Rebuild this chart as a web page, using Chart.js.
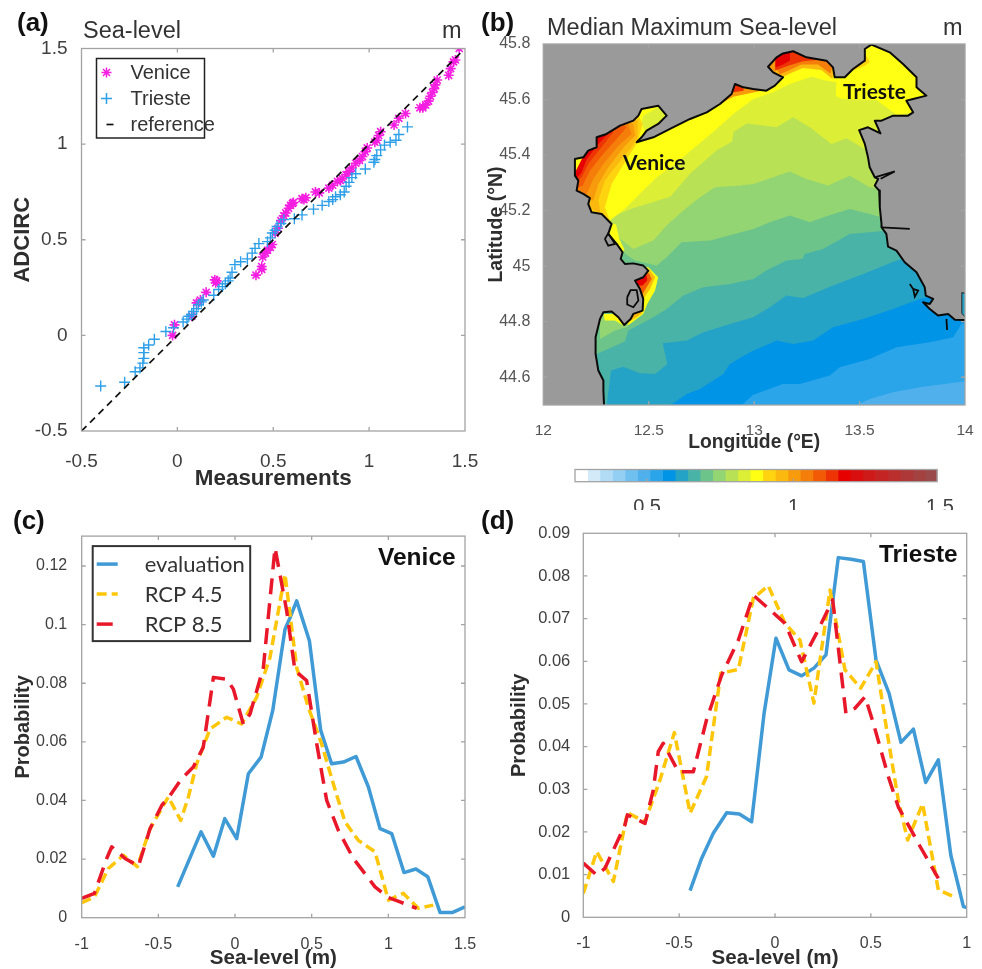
<!DOCTYPE html>
<html><head><meta charset="utf-8">
<script src="https://cdn.jsdelivr.net/npm/chart.js@4/dist/chart.umd.js"></script>
<style>
html,body{margin:0;padding:0;background:#fff;width:982px;height:969px;overflow:hidden}
#wrap{position:relative;width:982px;height:969px;filter:blur(0.45px)}
canvas{position:absolute;display:block}
.t{position:absolute;white-space:pre;transform:translateY(-50%);line-height:1}
</style></head><body><div id="wrap"></div>
<script>
// ---------- Panel (a) ----------
const veniceQQ=[[-0.025,0.0],[-0.015,0.055],[0.075,0.10],[0.10,0.17],[0.12,0.185],[0.15,0.225],[0.195,0.29],[0.20,0.275],[0.205,0.285],[0.41,0.315],[0.44,0.345],[0.44,0.36],[0.445,0.41],[0.46,0.43],[0.47,0.445],[0.485,0.46],[0.495,0.475],[0.51,0.535],[0.525,0.56],[0.54,0.60],[0.555,0.625],[0.565,0.64],[0.58,0.665],[0.59,0.68],[0.60,0.69],[0.605,0.695],[0.65,0.715],[0.66,0.71],[0.67,0.72],[0.72,0.75],[0.74,0.745],[0.79,0.77],[0.81,0.785],[0.835,0.805],[0.85,0.81],[0.86,0.82],[0.88,0.84],[0.895,0.855],[0.91,0.875],[0.93,0.90],[0.95,0.915],[0.965,0.935],[0.98,0.96],[0.99,0.98],[1.03,1.01],[1.04,1.02],[1.05,1.045],[1.06,1.065],[1.13,1.10],[1.155,1.135],[1.19,1.16],[1.265,1.19],[1.28,1.19],[1.295,1.205],[1.31,1.225],[1.32,1.25],[1.33,1.27],[1.34,1.29],[1.345,1.31],[1.355,1.335],[1.415,1.36],[1.425,1.395],[1.44,1.43],[1.45,1.44],[1.47,1.5]];
const triesteQQ=[[-0.40,-0.265],[-0.275,-0.245],[-0.22,-0.19],[-0.195,-0.17],[-0.18,-0.145],[-0.175,-0.12],[-0.175,-0.09],[-0.175,-0.065],[-0.15,-0.05],[-0.12,-0.02],[-0.06,0.02],[-0.02,0.04],[0.03,0.07],[0.05,0.085],[0.06,0.10],[0.075,0.11],[0.085,0.125],[0.10,0.14],[0.11,0.16],[0.125,0.175],[0.135,0.185],[0.19,0.21],[0.215,0.24],[0.235,0.255],[0.25,0.27],[0.265,0.285],[0.275,0.30],[0.285,0.33],[0.30,0.37],[0.33,0.385],[0.365,0.40],[0.39,0.43],[0.405,0.455],[0.425,0.48],[0.47,0.49],[0.485,0.51],[0.495,0.535],[0.51,0.55],[0.52,0.57],[0.54,0.585],[0.555,0.605],[0.61,0.61],[0.65,0.63],[0.71,0.66],[0.755,0.68],[0.79,0.70],[0.81,0.71],[0.825,0.725],[0.85,0.735],[0.87,0.75],[0.88,0.78],[0.895,0.80],[0.91,0.825],[0.93,0.845],[0.98,0.87],[1.025,0.905],[1.03,0.92],[1.04,0.94],[1.06,0.97],[1.08,0.995],[1.11,1.01],[1.14,1.02],[1.155,1.05],[1.20,1.09]];
const referenceLine=[[-0.5,-0.5],[1.48,1.48]];
const aTicks=[-0.5,0,0.5,1,1.5];

// ---------- Panel (b) : colour bands ----------
const mapXTicks=[12,12.5,13,13.5,14];
const mapYTicks=[44.6,44.8,45,45.2,45.4,45.6,45.8];
const contour0=[[13.485,44.48],[13.485,44.498],[13.548,44.522],[13.659,44.546],[13.785,44.564],[14.02,44.588]];
const contour1=[[12.933,44.48],[12.933,44.494],[12.996,44.537],[13.137,44.576],[13.216,44.576],[13.359,44.606],[13.406,44.636],[13.548,44.666],[13.675,44.708],[13.833,44.726],[13.944,44.744],[13.983,44.792],[14.02,44.80]];
const contour2=[[12.593,44.48],[12.593,44.494],[12.680,44.540],[12.743,44.558],[12.854,44.612],[12.885,44.648],[12.980,44.690],[13.106,44.732],[13.185,44.720],[13.280,44.732],[13.374,44.780],[13.517,44.810],[13.659,44.846],[13.785,44.882],[13.880,44.894],[14.02,44.90]];
const contour3=[[12.300,44.48],[12.300,44.494],[12.321,44.624],[12.379,44.638],[12.458,44.614],[12.530,44.612],[12.588,44.648],[12.566,44.722],[12.680,44.732],[12.759,44.762],[12.885,44.792],[12.996,44.816],[13.074,44.852],[13.153,44.894],[13.232,44.885],[13.374,44.930],[13.517,44.972],[13.675,45.020],[13.785,45.038],[14.02,45.04]];
const contour4=[[12.237,44.678],[12.387,44.729],[12.403,44.768],[12.522,44.816],[12.585,44.846],[12.664,44.894],[12.759,44.924],[12.885,44.936],[12.996,44.954],[13.058,44.984],[13.153,45.020],[13.229,45.026],[13.240,45.044],[13.327,45.062],[13.453,45.116],[13.596,45.126],[13.659,45.128]];
const contour5=[[12.379,45.050],[12.435,45.020],[12.538,45.002],[12.585,45.032],[12.656,45.086],[12.791,45.092],[12.996,45.134],[13.074,45.158],[13.169,45.182],[13.264,45.158],[13.335,45.178],[13.453,45.206],[13.548,45.188],[13.659,45.164]];
const contour6=[[12.356,45.104],[12.427,45.062],[12.522,45.092],[12.585,45.146],[12.664,45.200],[12.743,45.248],[12.814,45.284],[12.933,45.290],[12.996,45.296],[13.090,45.320],[13.169,45.341],[13.248,45.314],[13.351,45.290],[13.453,45.326],[13.548,45.284],[13.659,45.272]];
const contour7=[[12.326,45.176],[12.413,45.206],[12.602,45.250],[12.697,45.334],[12.824,45.418],[12.895,45.448],[12.903,45.484],[12.966,45.514],[13.106,45.500],[13.185,45.536],[13.264,45.500],[13.367,45.440],[13.438,45.461],[13.517,45.425],[13.596,45.404]];
const contour8=[[12.316,45.164],[12.395,45.212],[12.474,45.272],[12.538,45.320],[12.625,45.368],[12.719,45.428],[12.822,45.494],[12.901,45.548],[12.996,45.602],[13.090,45.626],[13.169,45.656],[13.272,45.682],[13.343,45.668],[13.390,45.662],[13.387,45.614],[13.414,45.602],[13.580,45.598],[13.675,45.545],[13.770,45.554]];
const bandContours=[contour0,contour1,contour2,contour3,contour4,contour5,contour6,contour7,contour8];
const bandColors=['#2aa5ea','#0094e6','#25a3c6','#49b3a8','#6cc48a','#93d572','#b8e155','#dcee36','#ffff14'];
// near-coast patches, painted in order above the bands
const patches=[
 {c:'#dcee36',p:[[12.474,45.542],[12.545,45.572],[12.582,45.542],[12.530,45.506],[12.482,45.490],[12.466,45.512]]},
 {c:'#ffd30f',p:[[12.324,45.146],[12.292,45.212],[12.324,45.296],[12.372,45.356],[12.447,45.446],[12.471,45.512],[12.451,45.542],[12.30,45.56],[12.10,45.26],[12.206,45.164]]},
 {c:'#fbb80f',p:[[12.272,45.188],[12.261,45.236],[12.292,45.308],[12.340,45.356],[12.419,45.428],[12.447,45.464],[12.447,45.524],[12.30,45.56],[12.10,45.26]]},
 {c:'#f79a0c',p:[[12.237,45.236],[12.261,45.296],[12.308,45.356],[12.387,45.434],[12.435,45.470],[12.427,45.512],[12.30,45.56],[12.10,45.26]]},
 {c:'#f57e0a',p:[[12.206,45.260],[12.237,45.314],[12.285,45.368],[12.356,45.434],[12.419,45.476],[12.403,45.512],[12.30,45.56],[12.10,45.26]]},
 {c:'#f25a06',p:[[12.187,45.290],[12.221,45.344],[12.277,45.398],[12.340,45.452],[12.395,45.500],[12.379,45.512],[12.30,45.56],[12.10,45.26]]},
 {c:'#ee3305',p:[[12.182,45.320],[12.213,45.368],[12.269,45.422],[12.332,45.482],[12.30,45.56],[12.10,45.26]]},
 {c:'#e60000',p:[[12.182,45.338],[12.206,45.386],[12.261,45.440],[12.324,45.490],[12.30,45.56],[12.10,45.26]]},
 {c:'#fbb80f',p:[[13.109,45.670],[13.169,45.694],[13.232,45.714],[13.319,45.706],[13.371,45.674],[13.40,45.80],[13.05,45.80]]},
 {c:'#f57e0a',p:[[13.121,45.690],[13.169,45.706],[13.224,45.726],[13.303,45.726],[13.362,45.694],[13.40,45.80],[13.05,45.80]]},
 {c:'#ee3305',p:[[13.098,45.704],[13.161,45.722],[13.232,45.738],[13.295,45.742],[13.30,45.80],[13.05,45.80]]},
 {c:'#e60000',p:[[13.093,45.714],[13.137,45.726],[13.169,45.740],[13.17,45.80],[13.05,45.80]]},
 {c:'#f79a0c',p:[[12.74,45.56],[12.82,45.575],[12.90,45.61],[12.996,45.625],[13.058,45.635],[13.10,45.655],[13.10,45.75],[12.90,45.75],[12.74,45.62]]},
 {c:'#ee3305',p:[[12.895,45.625],[12.95,45.632],[12.95,45.70],[12.89,45.70]]},
 {c:'#ffd30f',p:[[13.47,45.705],[13.525,45.722],[13.55,45.735],[13.53,45.76],[13.50,45.76]]},
 {c:'#ffff14',p:[[12.498,44.996],[12.545,44.960],[12.530,44.912],[12.493,44.864],[12.474,44.828],[12.411,44.792],[12.387,44.780],[12.37,44.85],[12.40,45.00]]},
 {c:'#fbb80f',p:[[12.506,44.984],[12.530,44.960],[12.506,44.918],[12.474,44.882],[12.40,44.90],[12.45,45.0]]},
 {c:'#f25a06',p:[[12.503,44.972],[12.514,44.954],[12.490,44.924],[12.471,44.900],[12.40,44.90],[12.45,45.0]]},
 {c:'#e60000',p:[[12.490,44.966],[12.493,44.948],[12.471,44.930],[12.43,44.93],[12.45,44.98]]},
 {c:'#fbb80f',p:[[12.40,44.795],[12.47,44.83],[12.44,44.86],[12.38,44.83]]},
 {c:'#93d572',p:[[12.269,44.738],[12.340,44.768],[12.403,44.782],[12.395,44.816],[12.269,44.822]]},
 {c:'#ffff14',p:[[12.292,44.804],[12.340,44.804],[12.379,44.786],[12.379,44.828],[12.285,44.828]]},
 {c:'#ffff14',p:[[12.30,45.16],[12.345,45.15],[12.36,45.10],[12.385,45.06],[12.36,45.03],[12.30,45.10]]}
];
const coastline=[[12.288,44.48],[12.288,44.5],[12.285,44.552],[12.285,44.588],[12.261,44.624],[12.248,44.684],[12.248,44.744],[12.269,44.810],[12.285,44.834],[12.324,44.837],[12.356,44.816],[12.384,44.788],[12.414,44.810],[12.427,44.828],[12.471,44.840],[12.474,44.882],[12.458,44.918],[12.435,44.948],[12.474,44.960],[12.498,44.984],[12.474,45.002],[12.427,45.010],[12.387,45.008],[12.367,45.026],[12.376,45.050],[12.348,45.080],[12.308,45.116],[12.324,45.152],[12.277,45.188],[12.229,45.194],[12.213,45.224],[12.221,45.245],[12.190,45.260],[12.158,45.272],[12.166,45.308],[12.150,45.326],[12.150,45.386],[12.190,45.392],[12.213,45.416],[12.253,45.428],[12.253,45.464],[12.300,45.476],[12.364,45.506],[12.427,45.524],[12.451,45.542],[12.466,45.566],[12.545,45.578],[12.585,45.542],[12.545,45.512],[12.490,45.488],[12.466,45.464],[12.443,45.446],[12.522,45.464],[12.601,45.494],[12.696,45.530],[12.775,45.554],[12.838,45.584],[12.893,45.620],[12.909,45.656],[12.949,45.644],[12.995,45.638],[13.058,45.632],[13.098,45.650],[13.137,45.680],[13.090,45.698],[13.066,45.718],[13.106,45.752],[13.137,45.766],[13.185,45.774],[13.248,45.752],[13.343,45.740],[13.374,45.716],[13.382,45.680],[13.430,45.680],[13.469,45.710],[13.525,45.740],[13.525,45.782],[13.556,45.798],[13.643,45.770],[13.706,45.728],[13.770,45.680],[13.770,45.644],[13.817,45.614],[13.754,45.602],[13.722,45.596],[13.754,45.554],[13.730,45.542],[13.659,45.542],[13.604,45.524],[13.572,45.524],[13.599,45.478],[13.540,45.500],[13.498,45.490],[13.525,45.440],[13.540,45.392],[13.548,45.356],[13.572,45.320],[13.588,45.314],[13.572,45.290],[13.593,45.272],[13.596,45.212],[13.604,45.152],[13.604,45.140],[13.627,45.116],[13.635,45.070],[13.675,45.056],[13.714,45.014],[13.770,44.978],[13.809,44.924],[13.814,44.894],[13.849,44.882],[13.833,44.864],[13.801,44.870],[13.833,44.846],[13.872,44.822],[13.920,44.828],[13.952,44.807],[14.03,44.806],[14.03,45.83],[11.97,45.83],[11.97,44.47],[12.288,44.47]];
const inlet=[[13.985,44.905],[14.01,44.90],[14.01,44.81],[13.985,44.83],[13.985,44.905]];
const coastDetails=[
 [[12.398,44.888],[12.414,44.914],[12.443,44.914],[12.451,44.876],[12.427,44.852],[12.398,44.862],[12.398,44.888]],
 [[12.292,45.098],[12.308,45.118],[12.340,45.080],[12.308,45.074],[12.292,45.098]],
 [[13.572,45.320],[13.667,45.341],[13.600,45.315]],
 [[13.604,45.140],[13.738,45.134]],
 [[13.738,44.936],[13.754,44.918],[13.778,44.912],[13.762,44.890],[13.754,44.918]],
 [[13.912,44.810],[13.915,44.770]]
];
const seaBase='#4fb0ec', landColor='#9a9a9a';

// ---------- Colour bar ----------
const barEdges=[0.254,0.297,0.339,0.382,0.425,0.468,0.510,0.553,0.596,0.639,0.681,0.724,0.767,0.810,0.852,0.895,0.938,0.981,1.023,1.066,1.109,1.152,1.194,1.237,1.280,1.323,1.365,1.408,1.451,1.49];
const barColors=['#ffffff','#d3ebf9','#b2dcf6','#92cff3','#6fbfef','#4fb0ec','#2aa5ea','#0094e6','#25a3c6','#49b3a8','#6cc48a','#93d572','#b8e155','#dcee36','#ffff14','#ffd30f','#fbb80f','#f79a0c','#f57e0a','#f25a06','#ee3305','#e60000','#d90f0f','#cf1a1a','#c42424','#ba2e2e','#ae3838','#a44242','#9a4a4a'];
const barTicks=[0.5,1,1.5];

// ---------- Panel (c) ----------
const cEvaluation=[[-0.374,.0105],[-0.222,.0293],[-0.141,.0210],[-0.067,.0338],[0.011,.0270],[0.087,.0491],[0.170,.0548],[0.246,.0707],[0.326,.0984],[0.359,.1024],[0.402,.1081],[0.485,.0945],[0.559,.0639],[0.630,.0525],[0.707,.0531],[0.789,.0550],[0.870,.0446],[0.946,.0304],[1.022,.0287],[1.102,.0154],[1.180,.0166],[1.257,.0140],[1.337,.0018],[1.420,.0018],[1.5,.0037]];
const cRcp45=[[-1,.0051],[-0.917,.0071],[-0.826,.0168],[-0.728,.0213],[-0.637,.0174],[-0.554,.0304],[-0.435,.0412],[-0.354,.0332],[-0.304,.0412],[-0.25,.0525],[-0.163,.0644],[-0.054,.0684],[0.043,.0661],[0.141,.0752],[0.228,.0888],[0.326,.1172],[0.402,.0854],[0.478,.0718],[0.565,.0593],[0.641,.0457],[0.717,.0327],[0.804,.0264],[0.913,.0225],[1.0,.0060],[1.098,.0083],[1.196,.0032],[1.293,.0043]];
const cRcp85=[[-1,.0066],[-0.917,.0083],[-0.837,.0202],[-0.804,.0242],[-0.717,.0202],[-0.630,.0176],[-0.554,.0304],[-0.478,.0383],[-0.424,.0417],[-0.348,.0474],[-0.272,.0514],[-0.207,.0582],[-0.141,.0820],[-0.054,.0814],[-0.011,.0780],[0.054,.0661],[0.098,.0695],[0.185,.0854],[0.261,.1262],[0.337,.1047],[0.391,.0843],[0.467,.0809],[0.533,.0593],[0.598,.0400],[0.674,.0298],[0.772,.0202],[0.913,.0105],[1.0,.0069],[1.076,.0054],[1.185,.0032]];
const cXTicks=[-1,-0.5,0,0.5,1,1.5];
const cYTicks=[0,0.02,0.04,0.06,0.08,0.1,0.12];

// ---------- Panel (d) ----------
const dEvaluation=[[-0.443,.00625],[-0.383,.0138],[-0.322,.0197],[-0.252,.0245],[-0.186,.0242],[-0.122,.0224],[-0.057,.0478],[0.005,.0654],[0.073,.0580],[0.139,.0566],[0.203,.0584],[0.266,.0615],[0.330,.0843],[0.397,.0839],[0.461,.0834],[0.527,.0603],[0.595,.0525],[0.657,.0410],[0.722,.0441],[0.786,.0316],[0.852,.0369],[0.917,.0146],[0.983,.0025],[1,.0023]];
const dRcp45=[[-1,.0056],[-0.930,.0154],[-0.843,.0084],[-0.770,.0245],[-0.678,.0224],[-0.6,.0322],[-0.525,.0433],[-0.443,.0244],[-0.357,.0330],[-0.283,.0572],[-0.191,.0581],[-0.113,.0748],[-0.035,.0777],[0.052,.0689],[0.130,.0650],[0.203,.0502],[0.287,.0767],[0.365,.0580],[0.447,.0537],[0.527,.0599],[0.591,.0416],[0.643,.0275],[0.692,.0181],[0.770,.0266],[0.852,.0064],[0.939,.0047]];
const dRcp85=[[-1,.0127],[-0.930,.0099],[-0.887,.0115],[-0.783,.0216],[-0.77,.024],[-0.678,.0220],[-0.635,.0298],[-0.609,.0388],[-0.583,.0408],[-0.504,.0341],[-0.426,.0341],[-0.357,.0463],[-0.278,.0568],[-0.191,.0650],[-0.113,.0755],[-0.035,.0724],[0.052,.0689],[0.139,.0599],[0.217,.0666],[0.301,.0744],[0.370,.0478],[0.417,.0490],[0.470,.0517],[0.513,.0455],[0.591,.0330],[0.643,.0259],[0.757,.0166],[0.852,.0091]];
const dXTicks=[-1,-0.5,0,0.5,1];
const dYTicks=[0,0.01,0.02,0.03,0.04,0.05,0.06,0.07,0.08,0.09];

const sansName='"Liberation Sans"';
const INK='#404040', AXIS='#a3a3a3';
const BLUE='#3f9ad6', GOLD='#ffc60a', RED='#e8182a';
const xy=a=>a.map(([x,y])=>({x,y}));
const wrap=document.getElementById('wrap');

Chart.defaults.animation=false;
Chart.defaults.events=[];
Chart.defaults.plugins.legend.display=false;
Chart.defaults.plugins.tooltip.enabled=false;

// axis frame with inward ticks on all four sides
const framePlugin={id:'frame',afterDatasetsDraw(chart,_a,o){
  const {left,right,top,bottom}=chart.chartArea,c=chart.ctx,sx=chart.scales.x,sy=chart.scales.y;
  c.save();c.strokeStyle=o.color||AXIS;c.lineWidth=o.width||1.3;
  const R=o.xEnd!==undefined?sx.getPixelForValue(o.xEnd):right;
  c.strokeRect(left,top,R-left,bottom-top);
  const L=o.len===undefined?4:o.len;c.beginPath();
  sx.ticks.forEach(t=>{const p=sx.getPixelForValue(t.value);if(p>left+1&&p<R-1){c.moveTo(p,bottom);c.lineTo(p,bottom-L);if(!o.noTop){c.moveTo(p,top);c.lineTo(p,top+L);}}});
  if(!o.noY)sy.ticks.forEach(t=>{const p=sy.getPixelForValue(t.value);if(p>top+1&&p<bottom-1){c.moveTo(left,p);c.lineTo(left+L,p);c.moveTo(right,p);c.lineTo(right-L,p);}});
  c.stroke();c.restore();
}};
// legend box placed inside the plot; its swatches use the styles of the datasets
const boxLegend={id:'boxLegend',afterDatasetsDraw(chart,_a,o){
  if(!o.items)return;
  const c=chart.ctx,ca=chart.chartArea;
  c.save();
  const bx=ca.left+o.x,by=ca.top+o.y;
  c.fillStyle='#fff';c.fillRect(bx,by,o.w,o.h);
  c.strokeStyle=o.border;c.lineWidth=o.borderWidth;c.strokeRect(bx,by,o.w,o.h);
  o.items.forEach(it=>{
    const ds=chart.data.datasets[it.ds];
    const yy=by+it.dy;
    if(it.marker){
      c.strokeStyle=ds.pointBorderColor;
      Chart.helpers.drawPoint(c,{pointStyle:ds.pointStyle,radius:ds.pointRadius,rotation:0,borderWidth:ds.pointBorderWidth},bx+o.swX,yy);
    }else{
      c.strokeStyle=ds.borderColor;c.lineWidth=ds.borderWidth;c.setLineDash(ds.borderDash||[]);
      c.beginPath();c.moveTo(bx+o.swX,yy);c.lineTo(bx+o.swX+o.swW,yy);c.stroke();c.setLineDash([]);
    }
    c.fillStyle=o.color;c.font=o.font;c.textAlign='left';c.textBaseline='middle';
    c.fillText(ds.label,bx+o.tx,yy+1);
  });
  c.restore();
}};
Chart.register(framePlugin,boxLegend);

function linScale(o){
  return {type:'linear',min:o.min,max:o.max,position:o.pos,offset:false,
    grid:{display:false},border:{display:false},
    title:o.title?{display:true,text:o.title,color:'#2e2e2e',font:{family:sansName,weight:'bold',size:o.titleSize},padding:o.titlePad}:{display:false},
    ticks:{autoSkip:false,maxRotation:0,minRotation:0,includeBounds:false,color:o.color||INK,padding:o.tickPad,font:{family:sansName,size:o.size},callback:v=>String(v)},
    afterBuildTicks:s=>{s.ticks=o.ticks.map(v=>({value:v}));},
    afterFit:s=>{if(o.pos==='left')s.width=o.fit;else s.height=o.fit;}
  };
}
function makeChart(rect,plot,config){
  const cv=document.createElement('canvas');
  cv.width=rect.w;cv.height=rect.h;
  cv.style.cssText=`left:${rect.l}px;top:${rect.t}px;width:${rect.w}px;height:${rect.h}px`;
  wrap.appendChild(cv);
  config.options=config.options||{};
  config.options.responsive=false;
  config.options.layout={padding:{top:plot.top-rect.t,right:rect.l+rect.w-plot.right,left:plot.padLeft||0,bottom:0}};
  return new Chart(cv,config);
}

// ---- (a)
makeChart({l:0,t:20,w:490,h:480},{top:48.5,right:465},{
  type:'scatter',
  data:{datasets:[
    {label:'Venice',data:xy(veniceQQ),showLine:false,pointStyle:'star',pointRadius:5,pointBorderWidth:1.6,pointBorderColor:'#f41fe0',pointBackgroundColor:'#f41fe0',order:3},
    {label:'Trieste',data:xy(triesteQQ),showLine:false,pointStyle:'cross',pointRadius:5.5,pointBorderWidth:1.4,pointBorderColor:'#2d9fe8',pointBackgroundColor:'#2d9fe8',order:2},
    {label:'reference',data:xy(referenceLine),showLine:true,pointRadius:0,borderColor:'#111',borderWidth:1.7,borderDash:[7,5],order:1}
  ]},
  options:{scales:{
    x:linScale({min:-0.5,max:1.5,pos:'bottom',ticks:aTicks,size:19,tickPad:11,fit:69,title:'Measurements',titleSize:22.4,titlePad:{bottom:8}}),
    y:linScale({min:-0.5,max:1.5,pos:'left',ticks:aTicks,size:19,tickPad:6,fit:81.5,title:'ADCIRC',titleSize:22,titlePad:{top:10}})
  },plugins:{frame:{},boxLegend:{x:15,y:10,w:108,h:79.5,border:'#222',borderWidth:1.5,color:'#333',font:'20px '+sansName,swX:10,swW:7,tx:34,
    items:[{ds:0,dy:14,marker:true},{ds:1,dy:40,marker:true},{ds:2,dy:66}]}}}
});

// ---- (b)
const TOP=[[14.02,45.82],[11.98,45.82],[11.98,44.48]];
const mapSets=[];
const area=(pts,color)=>({data:xy(pts),showLine:true,fill:'shape',backgroundColor:color,borderColor:color,borderWidth:0,pointRadius:0,tension:0});
mapSets.push(area([[11.98,44.48],[14.02,44.48],[14.02,45.82],[11.98,45.82]],seaBase));
bandContours.forEach((c,i)=>mapSets.push(area(c.concat(TOP),bandColors[i])));
patches.forEach(p=>mapSets.push(area(p.p,p.c)));
mapSets.push({data:xy(coastline),showLine:true,fill:'shape',backgroundColor:landColor,borderColor:'#0a0a0a',borderWidth:2,pointRadius:0,tension:0,borderJoinStyle:'round'});
mapSets.push({data:xy(inlet),showLine:true,fill:'shape',backgroundColor:'#25a3c6',borderColor:'#222',borderWidth:1,pointRadius:0,tension:0});
coastDetails.forEach(d=>mapSets.push({data:xy(d),showLine:true,fill:false,borderColor:'#0a0a0a',borderWidth:1.8,pointRadius:0,tension:0}));
mapSets.forEach((d,i)=>{d.order=mapSets.length-i;});
makeChart({l:480,t:20,w:502,h:440},{top:44,right:965},{
  type:'scatter',data:{datasets:mapSets},
  options:{scales:{
    x:linScale({min:12,max:14,pos:'bottom',ticks:mapXTicks,size:15.5,color:'#555',tickPad:8,fit:55,title:'Longitude (°E)',titleSize:19.3,titlePad:{bottom:5.5}}),
    y:linScale({min:44.5,max:45.8,pos:'left',ticks:mapYTicks,size:16,color:'#555',tickPad:5,fit:63.3,title:'Latitude (°N)',titleSize:19.5,titlePad:{top:5}})
  },plugins:{frame:{}}}
});

// ---- colour bar
const barSets=barColors.map((col,i)=>({data:[[barEdges[i],barEdges[i+1]]],backgroundColor:col,borderWidth:0,barPercentage:1,categoryPercentage:1,grouped:false}));
makeChart({l:560,t:455,w:400,h:55},{top:469.5,right:940,padLeft:15},{
  type:'bar',data:{labels:[''],datasets:barSets},
  options:{indexAxis:'y',scales:{
    x:linScale({min:0.254,max:1.5,pos:'bottom',ticks:barTicks,size:20,tickPad:6,fit:28.3}),
    y:{type:'category',display:false}
  },plugins:{frame:{xEnd:1.49,noTop:true,noY:true,len:3}}}
});

// ---- (c)
const lineSet=(label,pts,color,w,dash,order)=>({label,data:xy(pts),showLine:true,pointRadius:0,borderColor:color,borderWidth:w,borderDash:dash,tension:0,order,borderJoinStyle:'round'});
makeChart({l:0,t:520,w:490,h:449},{top:535,right:465},{
  type:'scatter',
  data:{datasets:[
    lineSet('evaluation',cEvaluation,BLUE,3.5,[],3),
    lineSet('RCP 4.5',cRcp45,GOLD,3.5,[10,5],2),
    lineSet('RCP 8.5',cRcp85,RED,3.5,[16,9],1)
  ]},
  options:{scales:{
    x:linScale({min:-1,max:1.5,pos:'bottom',ticks:cXTicks,size:16,tickPad:9,fit:51.3,title:'Sea-level (m)',titleSize:20.6,titlePad:{bottom:-2}}),
    y:linScale({min:0,max:0.1302,pos:'left',ticks:cYTicks,size:16,tickPad:6.5,fit:81.7,title:'Probability',titleSize:20,titlePad:{top:11}})
  },plugins:{frame:{},boxLegend:{x:11,y:10,w:157.5,h:95,border:'#333',borderWidth:2,color:'#333',font:'22px Lato',swX:4,swW:21,tx:52,
    items:[{ds:0,dy:18},{ds:1,dy:48},{ds:2,dy:78}]}}}
});

// ---- (d)
makeChart({l:490,t:518,w:492,h:451},{top:533.3,right:966.7},{
  type:'scatter',
  data:{datasets:[
    lineSet('evaluation',dEvaluation,BLUE,3.5,[],3),
    lineSet('RCP 4.5',dRcp45,GOLD,3.5,[10,5],2),
    lineSet('RCP 8.5',dRcp85,RED,3.5,[16,9],1)
  ]},
  options:{scales:{
    x:linScale({min:-1,max:1,pos:'bottom',ticks:dXTicks,size:16,tickPad:9,fit:51.7,title:'Sea-level (m)',titleSize:20.6,titlePad:{bottom:-2}}),
    y:linScale({min:0,max:0.09,pos:'left',ticks:dYTicks,size:16.5,tickPad:5,fit:93.3,title:'Probability',titleSize:20,titlePad:{top:17}})
  },plugins:{frame:{}}}
});

// ---- page texts
const texts=[
 ['(a)',17,22,'bold 26px '+sansName,'#111'],
 ['(b)',481,22,'bold 26px '+sansName,'#111'],
 ['(c)',13,520,'bold 26px '+sansName,'#111'],
 ['(d)',481,520,'bold 26px '+sansName,'#111'],
 ['Sea-level',83,31,'23.5px '+sansName,'#333'],
 ['m',442,31,'23.5px '+sansName,'#333'],
 ['Median Maximum Sea-level',547,28,'23.5px '+sansName,'#333'],
 ['m',943,28,'23.5px '+sansName,'#333'],
 ['Venice',623,161,'bold 21px Lato','#111'],
 ['Trieste',843,90,'bold 21px Lato','#111'],
 ['Venice',378,557,'bold 24.5px '+sansName,'#111'],
 ['Trieste',879,554,'bold 24.4px '+sansName,'#111']
];
texts.forEach(([s,x,y,f,col])=>{
  const d=document.createElement('div');d.className='t';d.textContent=s;
  d.style.cssText=`left:${x}px;top:${y}px;font:${f};color:${col};line-height:1`;
  wrap.appendChild(d);
});
</script></body></html>
